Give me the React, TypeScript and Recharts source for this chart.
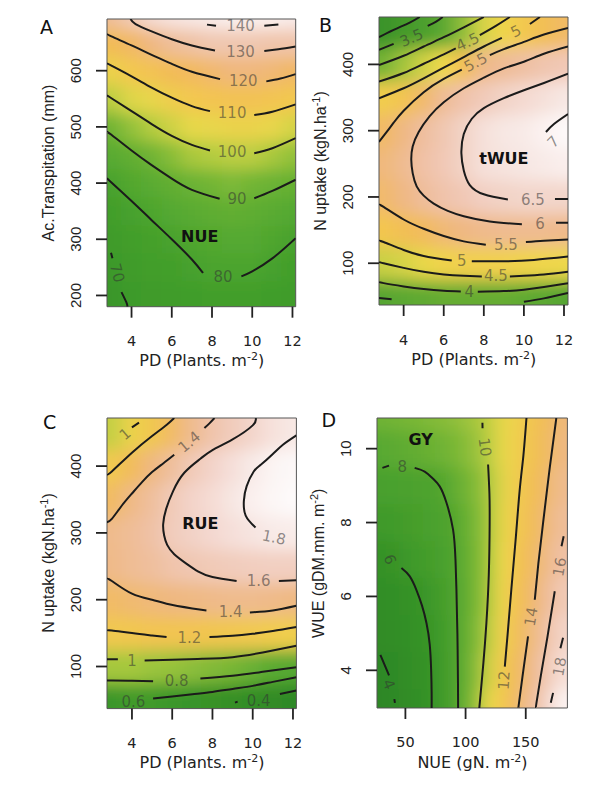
import { ComposedChart, XAxis, YAxis, Line, Scatter, ReferenceArea } from "recharts";

type Pt = [number, number];
type Stop = [number, string];
type CLabel = { x: number; y: number; text: string; angle?: number; bold?: boolean };

// plant density axis shared by A, B, C
const pdTicks = [4, 6, 8, 10, 12];
const pdCols = [3, 4, 5, 6, 7, 8, 9, 10, 11, 12];

// ---------- A: NUE vs PD x accumulated transpiration ----------
const transpRows = [200, 250, 300, 350, 400, 450, 500, 550, 600, 650, 700];
const transpTicks = [200, 300, 400, 500, 600];
const nueGrid = [
  [66, 71, 72, 73, 74, 75, 76, 75, 74, 73],
  [68, 73, 75, 77, 79, 81, 81, 81, 79, 77],
  [72, 76, 78, 80, 83, 84, 85, 85, 83, 80],
  [76, 79, 82, 85, 87, 88, 89, 88, 87, 85],
  [80, 84, 87, 89, 91, 93, 94, 93, 91, 90],
  [86, 89, 92, 95, 98, 99, 100, 100, 98, 96],
  [92, 96, 99, 102, 105, 106, 107, 107, 106, 103],
  [100, 104, 106, 110, 112, 114, 115, 115, 114, 112],
  [108, 112, 115, 118, 120, 122, 124, 124, 123, 121],
  [118, 121, 125, 129, 131, 133, 133, 133, 132, 132],
  [129, 134, 139, 141, 142, 143, 144, 144, 144, 143],
];
const nueLines: Pt[][][] = [
  [[[2.98, 276], [3.05, 266]], [[3.5, 206], [3.74, 188], [3.8, 180]]],
  [[[2.78, 408], [3, 401], [4, 368], [5, 334], [6, 300], [7, 264], [7.55, 240]], [[9.46, 234], [10, 243], [11, 266], [12.16, 302]]],
  [[[2.78, 491], [3, 486], [4, 458], [5, 432], [6, 408], [7, 388], [8.38, 372]], [[10.1, 373], [11, 386], [12.16, 406]]],
  [[[2.78, 556], [3, 551], [4, 528], [5, 505], [6, 484], [7, 468], [7.9, 458]], [[10.1, 453], [11, 462], [12.16, 480]]],
  [[[2.78, 613], [3, 609], [4, 590], [5, 570], [6, 552], [7, 537], [7.9, 528]], [[10.1, 521], [11, 527], [12.16, 540]]],
  [[[2.78, 666], [3, 661], [4, 645], [5, 628], [6, 612], [7, 598], [8.4, 585]], [[10.7, 581], [11.4, 586], [12.16, 594]]],
  [[[3.95, 692], [4.2, 683], [5, 670], [6, 656], [7, 645], [8.15, 636]], [[10.6, 635], [11.3, 638], [12.16, 643]]],
  [[[7.75, 682], [8.2, 680]], [[10.6, 680], [11.3, 682]]],
];
const nueLabels: CLabel[] = [
  { x: 9.42, y: 680, text: "140" },
  { x: 9.42, y: 634, text: "130" },
  { x: 9.55, y: 582, text: "120" },
  { x: 9.0, y: 524, text: "110" },
  { x: 9.0, y: 456, text: "100" },
  { x: 9.24, y: 371, text: "90" },
  { x: 8.55, y: 233, text: "80" },
  { x: 3.28, y: 240, text: "70", angle: 75 },
  { x: 7.39, y: 305, text: "NUE", bold: true },
];

// ---------- B: tWUE vs PD x N uptake ----------
const uptakeRows = [50, 100, 150, 200, 250, 300, 350, 400, 450];
const uptakeTicks = [100, 200, 300, 400];
const twueGrid = [
  [3.7, 3.75, 3.8, 3.85, 3.85, 3.85, 3.85, 3.8, 3.75, 3.7],
  [4.5, 4.6, 4.75, 4.9, 4.95, 4.95, 4.95, 4.9, 4.85, 4.8],
  [5.15, 5.3, 5.45, 5.6, 5.7, 5.8, 5.85, 5.85, 5.85, 5.8],
  [5.55, 5.7, 5.95, 6.15, 6.3, 6.45, 6.5, 6.55, 6.55, 6.55],
  [5.65, 5.85, 6.1, 6.3, 6.5, 6.7, 6.75, 6.8, 6.85, 6.9],
  [5.5, 5.7, 6.0, 6.25, 6.5, 6.7, 6.8, 6.85, 6.95, 7.05],
  [5.0, 5.2, 5.55, 5.9, 6.15, 6.35, 6.5, 6.6, 6.7, 6.8],
  [4.0, 4.3, 4.55, 4.8, 5.3, 5.75, 5.9, 6.05, 6.2, 6.3],
  [2.85, 3.25, 3.5, 3.75, 4.2, 4.6, 4.85, 5.1, 5.3, 5.5],
];
const twueLines: Pt[][][] = [
  [[[2.77, 441], [3.5, 452], [4.3, 463], [4.8, 471.5]]],
  [[[2.77, 422], [3.1, 426], [3.5, 431]], [[5.2, 458], [5.6, 464], [5.95, 471.5]]],
  [[[2.77, 47.5], [3.4, 45.5]], [[10.0, 42], [11, 47], [12.2, 55]]],
  [[[2.77, 399], [4, 413], [5, 427], [6, 441], [7, 456], [8, 471.5]]],
  [[[2.77, 72], [3, 70], [4, 65], [5, 61], [6, 58.5], [6.85, 57.5]], [[7.7, 57], [9, 58], [10, 60], [11, 64], [12.2, 70]]],
  [[[2.77, 374], [4, 387], [5, 401], [6, 415], [6.6, 424]], [[7.8, 444], [8.6, 458], [9.3, 471.5]]],
  [[[2.77, 102], [3, 100], [4, 93], [5, 87], [6, 83], [7, 81], [7.9, 80]], [[9.3, 80], [10, 81], [11, 83], [12.2, 87]]],
  [[[2.77, 349], [4, 364], [5, 379], [6, 395], [7, 411], [8, 427], [8.9, 440]], [[10.3, 461], [10.8, 471.5]]],
  [[[2.77, 134], [3, 132], [4, 120], [5, 111], [6.4, 104]], [[7.4, 103], [9, 103], [10.5, 105], [12.2, 110]]],
  [[[2.77, 283], [3, 292], [3.5, 312], [4, 330], [5, 358], [6, 378], [6.9, 392]], [[8.3, 414], [9, 423], [10, 434], [11, 445], [12.2, 455]]],
  [[[2.77, 188], [3, 185], [4, 166], [5, 152], [6, 141], [7, 133], [8.1, 128]], [[10.1, 132], [11, 134], [12.2, 136]]],
  [
    [[12.2, 427], [11, 416], [10, 404], [9, 394], [8, 380], [7, 364], [6, 343], [5.3, 322], [4.75, 298], [4.45, 276], [4.38, 256], [4.45, 236], [4.65, 216], [5, 202], [5.5, 190], [6.2, 179], [7, 171], [8.3, 163], [9.9, 159]],
    [[11.6, 161], [12.2, 161]],
  ],
  [
    [[12.2, 386], [11, 372], [10, 361], [9, 349], [8, 334], [7.4, 318], [7.0, 295], [6.88, 266], [7.0, 240], [7.3, 218], [8, 204], [9.2, 196]],
    [[11.55, 197], [12.2, 197]],
  ],
  [[[11.1, 298], [11.5, 310], [12.2, 325]]],
];
const twueLabels: CLabel[] = [
  { x: 4.4, y: 440, text: "3.5", angle: -24 },
  { x: 7.2, y: 434, text: "4.5", angle: -25 },
  { x: 9.6, y: 450, text: "5", angle: -27 },
  { x: 7.6, y: 403, text: "5.5", angle: -28 },
  { x: 10.45, y: 195, text: "6.5" },
  { x: 10.8, y: 159, text: "6" },
  { x: 11.47, y: 283, text: "7", angle: -45 },
  { x: 9.1, y: 128, text: "5.5" },
  { x: 6.9, y: 103, text: "5" },
  { x: 8.6, y: 80, text: "4.5" },
  { x: 7.27, y: 57, text: "4" },
  { x: 9.0, y: 258, text: "tWUE", bold: true },
];

// ---------- C: RUE vs PD x N uptake ----------
const rueGrid = [
  [0.55, 0.6, 0.6, 0.56, 0.52, 0.48, 0.43, 0.39, 0.35, 0.32],
  [0.95, 0.95, 0.93, 0.92, 0.9, 0.88, 0.86, 0.83, 0.8, 0.77],
  [1.19, 1.2, 1.22, 1.22, 1.22, 1.21, 1.2, 1.18, 1.16, 1.14],
  [1.33, 1.36, 1.38, 1.4, 1.41, 1.43, 1.44, 1.44, 1.43, 1.41],
  [1.43, 1.47, 1.5, 1.55, 1.58, 1.6, 1.62, 1.63, 1.64, 1.64],
  [1.44, 1.48, 1.53, 1.62, 1.66, 1.7, 1.74, 1.77, 1.8, 1.81],
  [1.32, 1.42, 1.5, 1.6, 1.67, 1.72, 1.78, 1.83, 1.86, 1.88],
  [1.18, 1.3, 1.4, 1.5, 1.6, 1.67, 1.74, 1.8, 1.85, 1.87],
  [1.0, 1.1, 1.2, 1.33, 1.45, 1.55, 1.62, 1.68, 1.75, 1.79],
];
const rueLines: Pt[][][] = [
  [[[4.0, 458], [4.35, 465]]],
  [[[2.76, 388], [3, 392], [4, 420], [5, 445], [5.73, 462], [6.1, 472]]],
  [[[2.76, 316], [3, 321], [3.5, 341], [4, 359], [4.5, 376], [5, 391], [5.55, 404], [6.1, 417]], [[7.6, 457], [7.85, 464], [8.1, 472]]],
  [
    [[10.15, 472], [10.0, 461], [9, 440], [8, 424], [7.4, 411], [6.6, 390], [6.05, 363], [5.7, 336], [5.55, 313], [5.6, 296], [5.75, 282], [6.1, 268], [6.7, 254], [7.3, 242], [8.0, 234], [9.2, 228]],
    [[11.3, 228], [12.17, 229]],
  ],
  [[[12.17, 446], [11.5, 432], [11, 418], [10.4, 402], [10.05, 392], [9.7, 370], [9.56, 348], [9.65, 326], [10.14, 308]]],
  [[[2.76, 231], [3, 228], [4, 209], [5, 200], [5.72, 194], [7, 187], [7.7, 184]], [[9.86, 181], [11, 184], [12.17, 191]]],
  [[[2.76, 154], [3, 154], [4, 150], [5, 146.5], [5.72, 144]], [[7.85, 144], [9, 146], [10, 149], [11, 153], [12.17, 159]]],
  [[[2.76, 111], [3.3, 111]], [[4.63, 109], [6, 110], [7.5, 111.5], [9, 114], [10.5, 121], [12.17, 131]]],
  [[[2.76, 79], [3, 79], [4, 78.5], [5.05, 78]], [[7.4, 82], [9, 86], [10.5, 92], [12.17, 99]]],
  [[[5.05, 52], [6, 55], [7, 58.5], [8, 62], [9, 66.5], [10, 71], [11, 77], [12.17, 84]]],
  [[[9.12, 46], [9.25, 47.5]], [[11.35, 59], [12.17, 64]]],
];
const rueLabels: CLabel[] = [
  { x: 3.66, y: 448, text: "1", angle: -40 },
  { x: 6.85, y: 436, text: "1.4", angle: -40 },
  { x: 11.05, y: 293, text: "1.8", angle: 12 },
  { x: 10.3, y: 228, text: "1.6" },
  { x: 8.9, y: 181, text: "1.4" },
  { x: 6.85, y: 142, text: "1.2" },
  { x: 4.0, y: 108, text: "1" },
  { x: 6.22, y: 79, text: "0.8" },
  { x: 4.07, y: 47, text: "0.6" },
  { x: 10.3, y: 49, text: "0.4" },
  { x: 7.4, y: 314, text: "RUE", bold: true },
];

// ---------- D: GY vs NUE x WUE ----------
const nueCols = [30, 40, 50, 60, 70, 80, 90, 100, 110, 120, 130, 140, 150, 160, 170, 180];
const wueRows = [3, 4, 5, 6, 7, 8, 9, 10, 11];
const nueTicks = [50, 100, 150];
const wueTicks = [4, 6, 8, 10];
const gyGrid = [
  [3.7, 4.0, 4.6, 5.2, 5.9, 6.8, 7.7, 8.7, 9.8, 11.0, 12.0, 13.4, 14.9, 16.2, 17.9, 19.3],
  [3.95, 4.3, 4.9, 5.4, 5.9, 6.8, 7.7, 8.6, 9.6, 10.6, 11.8, 13.0, 14.3, 15.7, 17.0, 18.2],
  [4.6, 4.9, 5.2, 5.6, 6.1, 6.9, 7.7, 8.6, 9.4, 10.3, 11.4, 12.6, 13.8, 15.1, 16.4, 17.6],
  [5.0, 5.3, 5.6, 5.95, 6.5, 7.2, 7.85, 8.5, 9.3, 10.1, 11.2, 12.3, 13.4, 14.5, 15.7, 16.8],
  [5.9, 6.05, 6.5, 6.9, 7.2, 7.5, 7.95, 8.6, 9.3, 10.0, 11.0, 12.0, 13.0, 14.0, 15.1, 16.1],
  [6.7, 6.9, 7.1, 7.35, 7.6, 7.8, 8.05, 8.7, 9.35, 10.0, 10.9, 11.8, 12.6, 13.6, 14.6, 15.6],
  [7.5, 7.6, 7.7, 7.8, 7.9, 8.05, 8.5, 9.0, 9.5, 10.05, 10.8, 11.6, 12.4, 13.3, 14.2, 15.1],
  [8.3, 8.4, 8.5, 8.6, 8.8, 9.0, 9.2, 9.5, 9.8, 10.3, 10.9, 11.5, 12.2, 12.9, 13.7, 14.6],
  [9.0, 9.1, 9.2, 9.3, 9.4, 9.5, 9.6, 9.8, 10.0, 10.4, 10.9, 11.4, 12.0, 12.7, 13.5, 14.3],
];
const gyLines: Pt[][][] = [
  [[[29.2, 4.42], [36.4, 3.86]], [[40.8, 3.22], [41.3, 3.12]]],
  [[[46.7, 6.77], [53.5, 6.55], [59.1, 6.18], [63.8, 5.75], [67.5, 5.28], [70.2, 4.7], [71.4, 4.0], [71.8, 3.4], [71.8, 2.98]]],
  [[[30.9, 9.48], [36.4, 9.54]], [[57.7, 9.48], [66, 9.38], [72.5, 9.2], [78.5, 8.98], [84, 8.55], [89.6, 7.81], [91.6, 7.0], [92.4, 6.18], [93.2, 5.0], [93.7, 3.6], [93.8, 2.98]]],
  [[[114, 10.7], [114.1, 10.55]], [[118.7, 9.57], [119.8, 8.8], [120, 7.99], [119.3, 6.6], [117.3, 5.28], [114.8, 4.2], [111.8, 3.12], [111.5, 2.98]]],
  [[[150.6, 10.83], [148, 9.8], [145, 8.89], [141.5, 7.5], [138, 6.18], [135, 5.0], [132.6, 4.1]]],
  [[[175.4, 10.83], [170, 9.5], [164.4, 7.99], [160.5, 6.9], [157.5, 5.91]], [[151.9, 4.92], [148, 4.0], [144.4, 3.12], [143.8, 2.98]]],
  [[[181.5, 7.63], [179.7, 7.36]], [[174.1, 6.14], [168, 4.9], [162.5, 3.85], [158.9, 3.12], [158.3, 2.98]]],
  [[[181, 4.88], [178.8, 4.6]], [[172.7, 3.39], [170.8, 3.12]]],
];
const gyLabels: CLabel[] = [
  { x: 36.1, y: 3.62, text: "4", angle: 67 },
  { x: 37, y: 7.0, text: "6", angle: 70 },
  { x: 47.4, y: 9.5, text: "8" },
  { x: 115.9, y: 10.04, text: "10", angle: 82 },
  { x: 132, y: 3.73, text: "12", angle: -86 },
  { x: 154.5, y: 5.45, text: "14", angle: -80 },
  { x: 178.3, y: 6.8, text: "16", angle: -80 },
  { x: 178.3, y: 4.1, text: "18", angle: -80 },
  { x: 62.6, y: 10.24, text: "GY", bold: true },
];

// terrain-style colour ramps, one per surface
const nueStops: Stop[] = [
  [66, "#3a9629"], [78, "#44a02c"], [87, "#5aab31"], [93, "#72b535"], [99, "#b4cc40"], [105, "#e6d84a"],
  [112, "#f3c84f"], [119, "#f2b957"], [125, "#efb782"], [131, "#efc2a5"], [137, "#f2d2c6"], [142, "#f8e8e5"], [146, "#fdf9f9"],
];
const twueStops: Stop[] = [
  [2.9, "#3b9329"], [3.6, "#4ea12e"], [4.1, "#7db736"], [4.5, "#c9d044"], [4.8, "#eed84b"], [5.1, "#f3c84f"],
  [5.4, "#f2bb56"], [5.7, "#efb883"], [6.0, "#efbe9e"], [6.4, "#f1ccbd"], [6.75, "#f6e3de"], [7.05, "#fdf9f9"],
];
const rueStops: Stop[] = [
  [0.3, "#2e8826"], [0.55, "#3a9629"], [0.8, "#5aaa31"], [0.95, "#a5c83e"], [1.05, "#e4d649"], [1.15, "#f1cd4d"],
  [1.28, "#f2bd54"], [1.4, "#efb880"], [1.52, "#efc0a3"], [1.65, "#f2d0c4"], [1.78, "#f7e6e2"], [1.88, "#fdfafa"],
];
const gyStops: Stop[] = [
  [3.5, "#2c8625"], [6, "#369328"], [8, "#4fa42e"], [9.3, "#7ab836"], [10.3, "#bccd42"], [11, "#ebd94b"],
  [12, "#f2c94f"], [13.2, "#f1bb55"], [14.5, "#efb880"], [16, "#efc0a3"], [17.5, "#f2d2c6"], [19.3, "#fbf3f1"],
];

const hex = (c: string) => [1, 3, 5].map((i) => parseInt(c.slice(i, i + 2), 16));
const colorAt = (stops: Stop[], v: number) => {
  if (v <= stops[0][0]) return stops[0][1];
  for (let i = 1; i < stops.length; i++) {
    if (v <= stops[i][0]) {
      const t = (v - stops[i - 1][0]) / (stops[i][0] - stops[i - 1][0]);
      const a = hex(stops[i - 1][1]);
      const b = hex(stops[i][1]);
      return `rgb(${a.map((c, k) => Math.round(c + (b[k] - c) * t)).join(",")})`;
    }
  }
  return stops[stops.length - 1][1];
};

const toSeries = (segs: Pt[][]) =>
  segs.flatMap((s, i) => [
    ...(i > 0 ? [{ x: s[0][0], y: null as number | null }] : []),
    ...s.map(([x, y]) => ({ x, y: y as number | null })),
  ]);

const SANS = "DejaVu Sans, sans-serif";
const ARIAL = "Liberation Sans, Arial, sans-serif";

type PanelProps = {
  box: { left: number; top: number; width: number; height: number };
  xDomain: [number, number];
  yDomain: [number, number];
  xTicks: number[];
  yTicks: number[];
  cols: number[];
  rows: number[];
  grid: number[][];
  stops: Stop[];
  lines: Pt[][][];
  labels: CLabel[];
};

const ML = 70;
const MT = 10;
const MR = 10;
const MB = 70;

const Surface = ({ box, xDomain, yDomain, xTicks, yTicks, cols, rows, grid, stops, lines, labels }: PanelProps) => {
  const W = box.width + ML + MR;
  const H = box.height + MT + MB;
  const cw = ((cols[1] - cols[0]) * box.width) / (xDomain[1] - xDomain[0]);
  const ch = ((rows[1] - rows[0]) * box.height) / (yDomain[1] - yDomain[0]);
  const lastC = cols.length - 1;
  const lastR = rows.length - 1;
  const cells = rows.flatMap((y, ri) => cols.map((x, ci) => ({ x, y, z: grid[ri][ci], ci, ri })));

  const cell = (s: any) => {
    const { cx, cy, payload } = s;
    const pad = 24;
    let x0 = cx - cw / 2 - 0.5;
    let x1 = cx + cw / 2 + 0.5;
    let y0 = cy - ch / 2 - 0.5;
    let y1 = cy + ch / 2 + 0.5;
    if (payload.ci === 0) x0 -= pad;
    if (payload.ci === lastC) x1 += pad;
    if (payload.ri === 0) y1 += pad;
    if (payload.ri === lastR) y0 -= pad;
    return <rect x={x0} y={y0} width={x1 - x0} height={y1 - y0} fill={colorAt(stops, payload.z)} />;
  };

  const label = (s: any) => {
    const { cx, cy, payload } = s;
    const a = payload.angle || 0;
    return (
      <text
        x={cx}
        y={cy}
        textAnchor="middle"
        dominantBaseline="central"
        transform={a ? `rotate(${a} ${cx} ${cy})` : undefined}
        fontFamily={SANS}
        fontSize={payload.bold ? 16 : 15}
        fontWeight={payload.bold ? 700 : 400}
        fill={payload.bold ? "#111" : "#333"}
        fillOpacity={payload.bold ? 1 : 0.55}
      >
        {payload.text}
      </text>
    );
  };

  const xTick = (t: any) => (
    <text x={t.x} y={MT + box.height + 39.5} textAnchor="middle" fontFamily={SANS} fontSize={14.5} fill="#222">
      {t.payload.value}
    </text>
  );
  const yTick = (t: any) => {
    const x = ML - 25.6;
    return (
      <text x={x} y={t.y} textAnchor="middle" transform={`rotate(-90 ${x} ${t.y})`} fontFamily={ARIAL} fontSize={15} fill="#222">
        {t.payload.value}
      </text>
    );
  };

  return (
    <div style={{ position: "absolute", left: box.left - ML, top: box.top - MT }}>
      <ComposedChart width={W} height={H} margin={{ top: MT, right: MR, bottom: 0, left: 0 }}>
        <XAxis
          type="number"
          dataKey="x"
          domain={xDomain}
          allowDataOverflow
          ticks={xTicks}
          interval={0}
          height={MB}
          tickSize={11}
          axisLine={false}
          tickLine={{ stroke: "#222", strokeWidth: 1.8 }}
          tick={xTick}
        />
        <YAxis
          type="number"
          dataKey="y"
          domain={yDomain}
          allowDataOverflow
          ticks={yTicks}
          interval={0}
          width={ML}
          tickSize={11}
          axisLine={false}
          tickLine={{ stroke: "#222", strokeWidth: 1.8 }}
          tick={yTick}
        />
        <Scatter data={cells} shape={cell} className="heat-soft" isAnimationActive={false} zIndex={-10} />
        {lines.map((segs, i) => (
          <Line
            key={i}
            data={toSeries(segs)}
            dataKey="y"
            type="natural"
            stroke="#1b1b1b"
            strokeWidth={2}
            dot={false}
            activeDot={false}
            isAnimationActive={false}
          />
        ))}
        <ReferenceArea x1={xDomain[0]} x2={xDomain[1]} y1={yDomain[0]} y2={yDomain[1]} fill="none" stroke="#555" strokeWidth={1} />
        <Scatter data={labels} shape={label} isAnimationActive={false} />
      </ComposedChart>
    </div>
  );
};

const Title = ({ x, y, main, sup, vertical }: { x: number; y: number; main: string; sup?: string; vertical?: boolean }) => (
  <text
    x={x}
    y={y}
    textAnchor="middle"
    transform={vertical ? `rotate(-90 ${x} ${y})` : undefined}
    fontFamily={vertical ? ARIAL : SANS}
    fontSize={16}
    fill="#222"
  >
    {main}
    {sup ? (
      <>
        <tspan dy={-6} fontSize={11}>
          {sup}
        </tspan>
        <tspan dy={6}>)</tspan>
      </>
    ) : null}
  </text>
);

const App = () => (
  <div style={{ position: "absolute", left: 0, top: 0, width: 593, height: 785, background: "#fff", overflow: "hidden" }}>
    <svg width={0} height={0} style={{ position: "absolute" }}>
      <defs>
        <filter id="heat-blur" x="0" y="0" width="1" height="1">
          <feGaussianBlur stdDeviation="8" edgeMode="duplicate" />
        </filter>
      </defs>
    </svg>
    <style>{`.heat-soft { filter: url(#heat-blur); }`}</style>

    <Surface
      box={{ left: 107.3, top: 19, width: 188.7, height: 287.7 }}
      xDomain={[2.78, 12.16]}
      yDomain={[180, 692]}
      xTicks={pdTicks}
      yTicks={transpTicks}
      cols={pdCols}
      rows={transpRows}
      grid={nueGrid}
      stops={nueStops}
      lines={nueLines}
      labels={nueLabels}
    />
    <Surface
      box={{ left: 379.3, top: 17, width: 189, height: 288 }}
      xDomain={[2.77, 12.2]}
      yDomain={[37, 471.5]}
      xTicks={pdTicks}
      yTicks={uptakeTicks}
      cols={pdCols}
      rows={uptakeRows}
      grid={twueGrid}
      stops={twueStops}
      lines={twueLines}
      labels={twueLabels}
    />
    <Surface
      box={{ left: 107.3, top: 417.7, width: 189.4, height: 290.6 }}
      xDomain={[2.76, 12.17]}
      yDomain={[37, 472]}
      xTicks={pdTicks}
      yTicks={uptakeTicks}
      cols={pdCols}
      rows={uptakeRows}
      grid={rueGrid}
      stops={rueStops}
      lines={rueLines}
      labels={rueLabels}
    />
    <Surface
      box={{ left: 377.3, top: 418.3, width: 190.4, height: 290 }}
      xDomain={[26.4, 184.6]}
      yDomain={[2.98, 10.83]}
      xTicks={nueTicks}
      yTicks={wueTicks}
      cols={nueCols}
      rows={wueRows}
      grid={gyGrid}
      stops={gyStops}
      lines={gyLines}
      labels={gyLabels}
    />

    <svg width={593} height={785} style={{ position: "absolute", left: 0, top: 0, pointerEvents: "none" }}>
      <g fontFamily={SANS} fontSize={19} fill="#111">
        <text x={40} y={33.5}>A</text>
        <text x={319} y={31.5}>B</text>
        <text x={43} y={428.5}>C</text>
        <text x={321.5} y={427}>D</text>
      </g>
      <Title x={53.8} y={163} main="Ac.Transpitation (mm)" vertical />
      <Title x={201.7} y={366} main="PD (Plants. m" sup="-2" />
      <Title x={325.8} y={161} main="N uptake (kgN.ha" sup="-1" vertical />
      <Title x={473.8} y={364.5} main="PD (Plants. m" sup="-2" />
      <Title x={53.8} y={563} main="N uptake (kgN.ha" sup="-1" vertical />
      <Title x={202} y={767.5} main="PD (Plants. m" sup="-2" />
      <Title x={323.8} y={563.3} main="WUE (gDM.mm. m" sup="-2" vertical />
      <Title x={472.5} y={767.5} main="NUE (gN. m" sup="-2" />
    </svg>
  </div>
);

export default App;
